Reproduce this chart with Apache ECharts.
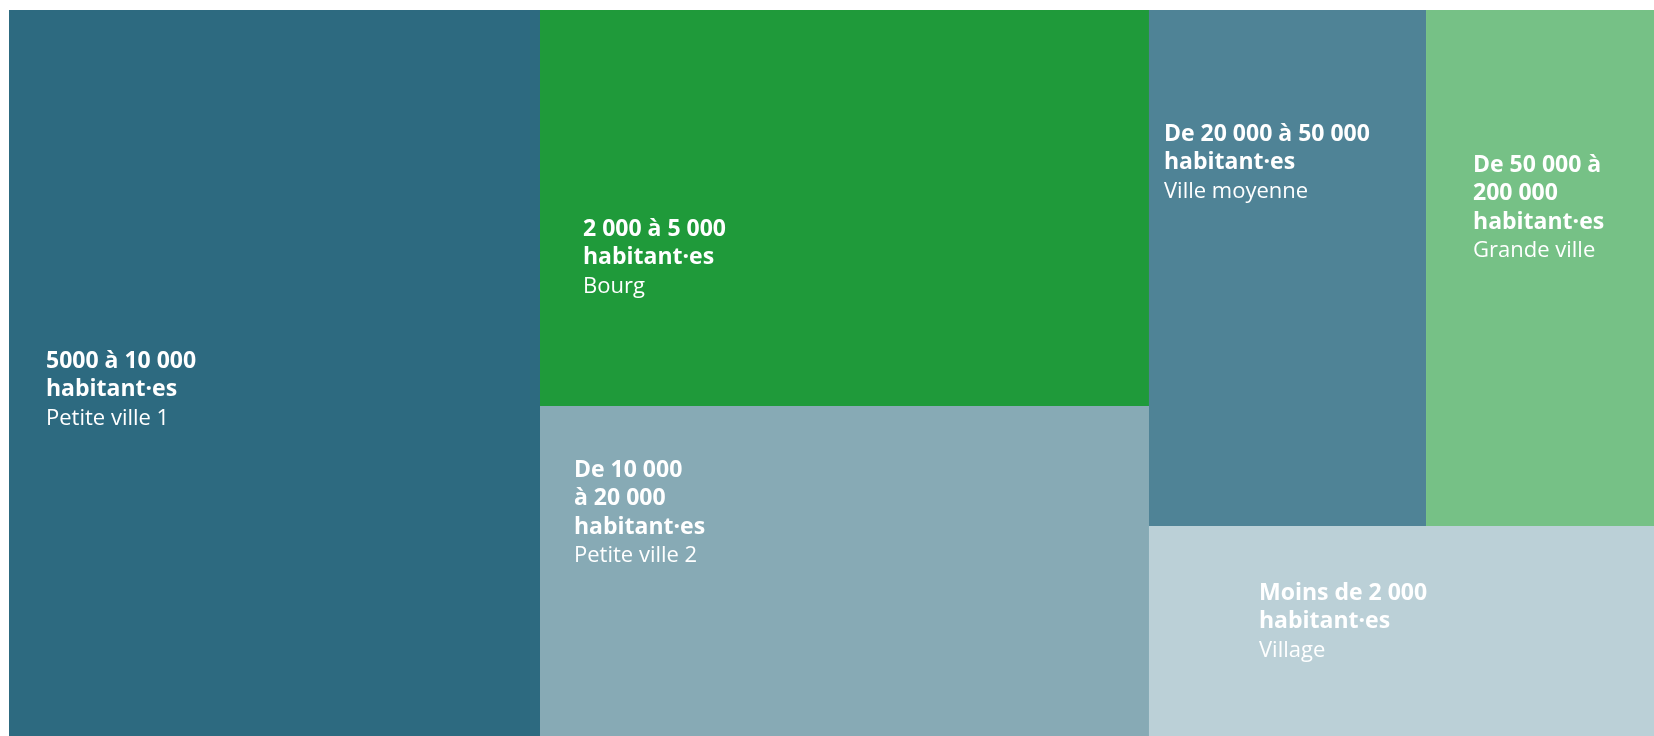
<!DOCTYPE html>
<html>
<head>
<meta charset="utf-8">
<title>Taille des communes</title>
<script src="https://cdn.jsdelivr.net/npm/echarts@6/dist/echarts.min.js"></script>
<style>
    html, body { margin: 0; padding: 0; background: #fff; }
    #treeChart { width: 1654px; height: 736px; }
</style>
</head>
<body>
<div id="treeChart"></div>
<script>
// share of each commune size (%)
var titles = [
    '5000 à 10 000\nhabitant·es',
    '2 000 à 5 000\nhabitant·es',
    'De 10 000\nà 20 000\nhabitant·es',
    'De 20 000 à 50 000\nhabitant·es',
    'De 50 000 à\n200 000\nhabitant·es',
    'Moins de 2 000\nhabitant·es'
]
var subtitles = ['Petite ville 1', 'Bourg', 'Petite ville 2', 'Ville moyenne', 'Grande ville', 'Village']
var values = [32.28, 20.19, 16.83, 11.97, 9.85, 8.88]

var colors = ['#2d6a80', '#1f9a3a', '#87aab5', '#4f8396', '#76c186', '#bbd0d7']
// label offset inside each cell
var labelPos = [[37, 337], [43, 205], [34, 50], [15, 110], [47, 141], [110, 53]]

var treeChart = echarts.init(document.getElementById('treeChart'))

var treeData = values.map(function (v, i) {
    return {
        name: titles[i],
        value: v,
        subtitle: subtitles[i],
        itemStyle: { color: colors[i] },
        label: { position: labelPos[i] }
    }
})

var treeOption = {
    animation: false,
    series: [
        {
            type: 'treemap',
            left: 9,
            top: 10,
            right: 0,
            bottom: 0,
            roam: false,
            nodeClick: false,
            squareRatio: 1.3,
            breadcrumb: { show: false },
            itemStyle: {
                borderWidth: 0,
                gapWidth: 0
            },
            levels: [
                { itemStyle: { borderWidth: 0, gapWidth: 0 } }
            ],
            label: {
                show: true,
                padding: 0,
                overflow: 'none',
                align: 'left',
                verticalAlign: 'top',
                formatter: function (p) {
                    return '{t|' + p.name + '}\n{s|' + p.data.subtitle + '}'
                },
                rich: {
                    t: {
                        fontFamily: 'Open Sans',
                        fontWeight: 'bold',
                        fontSize: 23,
                        lineHeight: 28.5,
                        color: '#fff'
                    },
                    s: {
                        fontFamily: 'Open Sans',
                        fontWeight: 'normal',
                        fontSize: 22,
                        lineHeight: 28.5,
                        color: '#fff'
                    }
                }
            },
            data: treeData
        }
    ]
}
treeChart.setOption(treeOption, true)
</script>
</body>
</html>
